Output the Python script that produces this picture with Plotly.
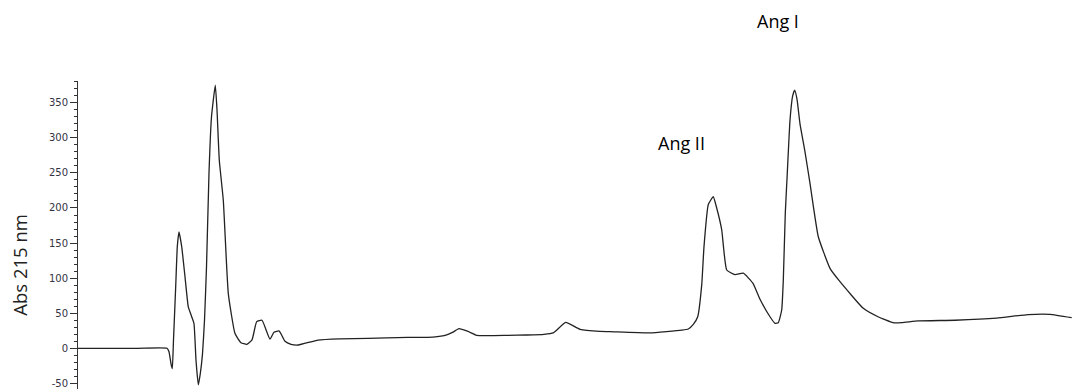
import plotly.graph_objects as go

# retention position (arbitrary units) and absorbance values
t = [0, 60, 89, 91, 93, 94.3, 95.5, 97.7, 99.3, 101, 103.7, 107, 110.3, 113.7, 116, 118, 120.3,
     122.3, 124.5, 126.5, 128.5, 131, 133.5, 137.3, 139, 141.3, 145.3, 150.3, 157, 163, 168.7,
     174, 178.7, 184, 192, 196, 201.3, 207, 213, 220.3, 240, 262, 290, 308.7, 330, 355, 368.7,
     375, 381, 390, 398.7, 430, 448.7, 466, 475.3, 478, 487.7, 502, 522, 532, 572, 603.7,
     610.3, 615.3, 619.7, 623.7, 626, 630.3, 635.3, 638.7, 643.7, 648.7, 657, 665.3, 675, 682,
     692, 697, 700.3, 703.7, 705.3, 707.3, 709.3, 712, 714.7, 716.7, 719, 722, 727, 732, 740.3,
     752, 762, 785.3, 800, 815, 823.7, 840, 877, 918.7, 950, 972, 993.7, 1003]
absorbance = [0, 0, 0, -5, -22, -29, 12, 88, 145, 166, 145, 102, 59, 45, 35, -17, -52,
              -36, -8, 40, 116, 250, 330, 375, 340, 268, 211, 78, 21, 8, 5.7,
              12, 38, 40, 13, 23, 24.6, 10, 5.7, 4.7, 11.8, 13.5, 14.2, 14.8, 15.6, 16, 19,
              23, 28, 24, 18.5, 18.5, 19, 20, 22, 25, 37, 27, 24, 23.7, 22, 26,
              27.5, 34, 45, 90, 145, 205, 216, 200, 169, 111.6, 105, 107, 92.6, 70,
              45, 35.6, 36.5, 54.6, 97, 193, 250, 325, 360, 368, 355, 320, 280, 235,
              159, 114, 95, 57, 45, 36.5, 36.5, 39, 40, 43, 48, 48.4, 43.6]

ticks_y = [-50, 0, 50, 100, 150, 200, 250, 300, 350]
labels_y = ["-50", "0", "50", "100", "150", "200", "250", "300", "350"]

fig = go.Figure()
fig.add_trace(go.Scatter(
    x=t, y=absorbance, mode="lines",
    line=dict(color="#222222", width=1.3, shape="spline", smoothing=0.4),
    hoverinfo="skip", showlegend=False,
))

fig.add_annotation(x=603.5, y=293, xref="x", yref="y", text="Ang II", showarrow=False,
                   xanchor="center", yanchor="middle",
                   font=dict(family="Open Sans", size=18, color="#000000"))
fig.add_annotation(x=699.5, y=1.195, xref="x", yref="paper", text="Ang I", showarrow=False,
                   xanchor="center", yanchor="middle",
                   font=dict(family="Open Sans", size=18, color="#000000"))
fig.add_annotation(x=-0.058, y=0.403, xref="paper", yref="paper", text="Abs 215 nm",
                   textangle=-90, showarrow=False, xanchor="center", yanchor="middle",
                   font=dict(family="Open Sans", size=18.5, color="#222222"))

fig.update_layout(
    width=1081, height=389,
    margin=dict(l=78, r=0, t=81, b=0, autoexpand=False),
    paper_bgcolor="white", plot_bgcolor="white",
    xaxis=dict(range=[0, 1003], visible=False, showgrid=False, zeroline=False),
    yaxis=dict(
        range=[-58, 381], tickvals=ticks_y, ticktext=labels_y, automargin=False,
        showline=True, linecolor="#333333", linewidth=1,
        ticks="outside", ticklen=7, tickcolor="#333333", tickwidth=1,
        tickfont=dict(family="DejaVu Sans", size=10, color="#333344"),
        showgrid=False, zeroline=False,
        minor=dict(dtick=10, tick0=0, ticks="outside", ticklen=3, tickcolor="#333333"),
    ),
)

fig.write_html(
    "out.html",
    config={"displayModeBar": False},
    post_script="document.body.style.margin='0';document.body.style.overflow='hidden';",
)
